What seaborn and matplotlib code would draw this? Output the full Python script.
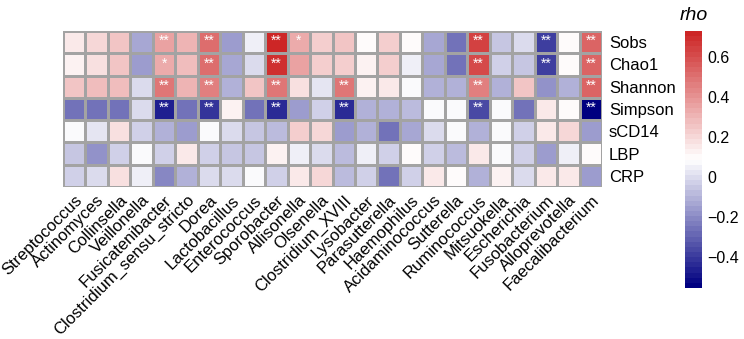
import numpy as np
import pandas as pd
import matplotlib
matplotlib.use("Agg")
import matplotlib.pyplot as plt
import seaborn as sns
from matplotlib.colors import LinearSegmentedColormap

# Genera (columns) and indices (rows)
genera = ["Streptococcus", "Actinomyces", "Collinsella", "Veillonella", "Fusicatenibacter",
          "Clostridium_sensu_stricto", "Dorea", "Lactobacillus", "Enterococcus", "Sporobacter",
          "Allisonella", "Olsenella", "Clostridium_XVIII", "Lysobacter", "Parasutterella",
          "Haemophilus", "Acidaminococcus", "Sutterella", "Ruminococcus", "Mitsuokella",
          "Escherichia", "Fusobacterium", "Alloprevotella", "Faecalibacterium"]
indices = ["Sobs", "Chao1", "Shannon", "Simpson", "sCD14", "LBP", "CRP"]

# Spearman rho values
sobs = [0.15, 0.20, 0.25, -0.12, 0.35, 0.30, 0.50, -0.15, 0.04, 0.72, 0.33, 0.22,
        0.25, 0.10, 0.22, 0.09, -0.12, -0.25, 0.65, -0.05, 0.00, -0.38, 0.10, 0.55]
chao1 = [0.12, 0.17, 0.25, -0.15, 0.33, 0.27, 0.50, -0.12, 0.00, 0.70, 0.35, 0.22,
         0.22, 0.12, 0.22, 0.04, -0.12, -0.25, 0.62, -0.03, -0.05, -0.38, 0.10, 0.55]
shannon = [0.25, 0.27, 0.27, 0.00, 0.48, 0.30, 0.45, -0.10, 0.25, 0.48, 0.18, 0.03,
           0.48, 0.13, 0.16, 0.08, -0.10, -0.10, 0.45, -0.10, 0.25, -0.18, -0.10, 0.55]
simpson = [-0.25, -0.27, -0.25, 0.00, -0.47, -0.25, -0.42, 0.12, -0.25, -0.44, -0.15, -0.02,
           -0.45, -0.10, -0.10, -0.07, 0.07, 0.08, -0.35, 0.08, -0.25, 0.15, 0.11, -0.555]
scd14 = [0.07, 0.03, 0.18, -0.02, -0.10, -0.15, 0.08, 0.00, -0.05, -0.07, 0.22, 0.20,
         -0.15, -0.10, -0.25, -0.12, 0.00, 0.07, -0.10, 0.08, -0.03, 0.15, 0.20, -0.15]
lbp = [-0.05, -0.17, -0.03, 0.07, -0.02, 0.14, -0.04, -0.05, -0.05, 0.13, 0.04, 0.00,
       -0.07, 0.04, -0.02, 0.09, -0.03, -0.07, 0.15, 0.08, -0.03, -0.15, 0.05, 0.09]
crp = [-0.02, 0.00, 0.18, 0.04, -0.20, -0.10, 0.01, -0.01, 0.08, -0.03, 0.15, 0.20,
       -0.07, -0.02, -0.25, -0.04, 0.15, 0.09, -0.10, 0.13, 0.00, 0.14, 0.15, -0.15]

# Significance marks per row
sig_sobs = {4: "**", 6: "**", 9: "**", 10: "*", 18: "**", 21: "**", 23: "**"}
sig_chao1 = {4: "*", 6: "**", 9: "**", 18: "**", 21: "**", 23: "**"}
sig_shannon = {4: "**", 6: "**", 9: "**", 12: "**", 18: "**", 23: "**"}
sig_simpson = {4: "**", 6: "**", 9: "**", 12: "**", 18: "**", 23: "**"}

cbar_ticks = [-0.4, -0.2, 0, 0.2, 0.4, 0.6]
cbar_labels = ["\u22120.4", "\u22120.2", "0", "0.2", "0.4", "0.6"]


def build_frames():
    rho = pd.DataFrame([sobs, chao1, shannon, simpson, scd14, lbp, crp],
                       index=indices, columns=genera)
    marks = pd.DataFrame("", index=indices, columns=genera)
    for row, sig in zip(indices[:4], [sig_sobs, sig_chao1, sig_shannon, sig_simpson]):
        for col, mark in sig.items():
            marks.iloc[indices.index(row), col] = mark
    return rho, marks


def plot_heatmap(rho, marks):
    plt.rcParams["font.family"] = ["Liberation Sans", "DejaVu Sans"]
    fig = plt.figure(figsize=(7.44, 3.39), dpi=100)
    ax = fig.add_axes([0.0847, 0.4484, 0.7245, 0.4602])
    cax = fig.add_axes([0.921, 0.1504, 0.0228, 0.758])

    cmap = LinearSegmentedColormap.from_list("nwf", ["navy", "white", "#CD2626"], N=50)

    sns.heatmap(
        rho, ax=ax, cbar_ax=cax, cmap=cmap, vmin=-0.555, vmax=0.73,
        linewidths=0.8, linecolor="#A3A3A3",
        annot=marks.values, fmt="",
        annot_kws={"color": "white", "fontsize": 10},
    )
    for t in ax.texts:
        t.set_y(t.get_position()[1] - 0.05)

    # row labels on the right, column labels rotated
    ax.yaxis.tick_right()
    ax.set_yticklabels(indices, rotation=0, fontsize=12)
    ax.set_xticklabels(genera, rotation=45, ha="right", va="top",
                       rotation_mode="anchor", fontsize=12)
    ax.tick_params(axis="both", length=0)
    ax.tick_params(axis="y", pad=5)
    ax.tick_params(axis="x", pad=4)
    ax.set_xlabel("")
    ax.set_ylabel("")

    cbar = ax.collections[0].colorbar
    cbar.outline.set_visible(False)
    cbar.set_ticks(cbar_ticks)
    cbar.set_ticklabels(cbar_labels)
    cbar.ax.tick_params(length=0, labelsize=11.5, pad=4)
    cax.set_title("rho", fontsize=14, style="italic", pad=8)

    fig.savefig("out.png", dpi=100)


def main():
    rho, marks = build_frames()
    plot_heatmap(rho, marks)


if __name__ == "__main__":
    main()
